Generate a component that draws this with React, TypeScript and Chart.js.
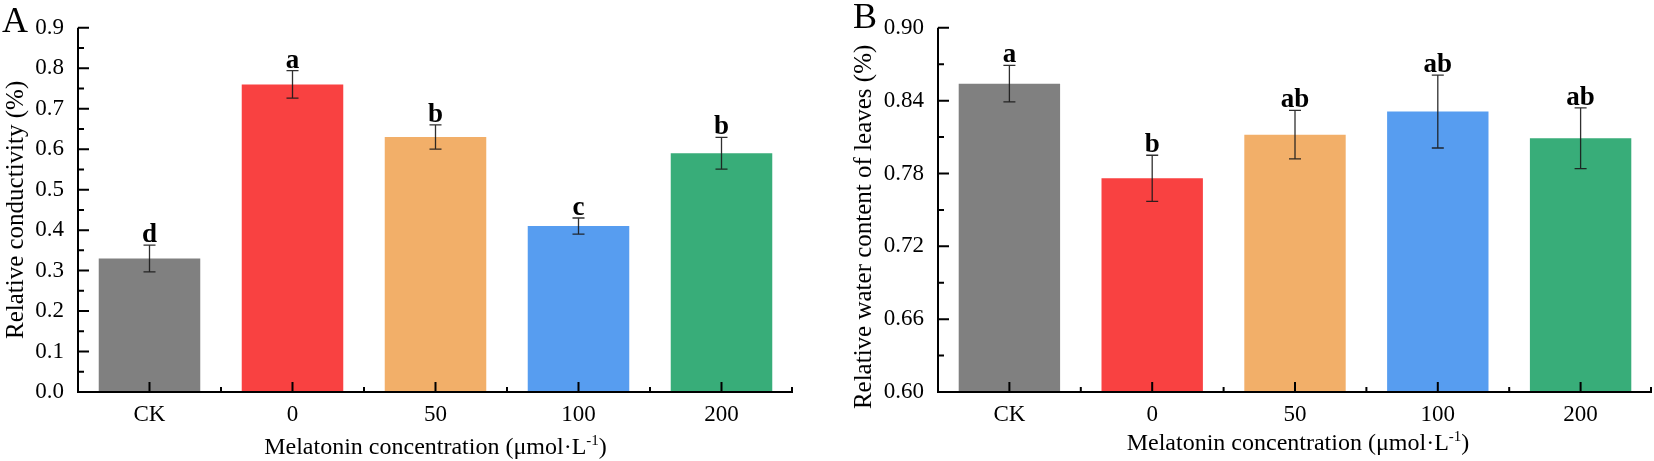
import { useEffect, useRef } from "react";
import { Chart, registerables } from "chart.js";

Chart.register(...registerables);

const categories = ["CK", "0", "50", "100", "200"];

// A: relative conductivity
const conductivity = [0.33, 0.76, 0.63, 0.41, 0.59];
const conductivityErr = [0.033, 0.034, 0.03, 0.02, 0.039];
const conductivityLetters = ["d", "a", "b", "c", "b"];
const conductivityTicks = [0, 0.1, 0.2, 0.3, 0.4, 0.5, 0.6, 0.7, 0.8, 0.9];

// B: relative water content
const waterContent = [0.854, 0.776, 0.812, 0.831, 0.809];
const waterContentErr = [0.015, 0.019, 0.02, 0.03, 0.025];
const waterContentLetters = ["a", "b", "ab", "ab", "ab"];
const waterContentTicks = [0.6, 0.66, 0.72, 0.78, 0.84, 0.9];

const barColors = ["#808080", "#F94141", "#F2AF69", "#579DF0", "#38AD79"];
const FONT = "'Liberation Serif', 'Times New Roman', serif";

type PanelProps = {
  values: number[];
  errors: number[];
  letters: string[];
  ticks: number[];
  decimals: number;
  yTitle: string;
  yTitleX: number;
  yTitleShift: number;
  xTitleShift: number;
  xTitleY: number;
  panel: string;
  panelX: number;
  panelY: number;
  width: number;
  axisLeft: number;
  axisRight: number;
};

function decorPlugin(p: PanelProps) {
  return {
    id: "decor",
    afterDraw(chart: any) {
      const ctx: CanvasRenderingContext2D = chart.ctx;
      const { left, right, top, bottom } = chart.chartArea;
      const xs = chart.scales.x;
      const ys = chart.scales.y;
      ctx.save();

      // error bars + significance letters
      p.values.forEach((v, i) => {
        const cx = xs.getPixelForValue(i);
        const hi = ys.getPixelForValue(v + p.errors[i]);
        const lo = ys.getPixelForValue(v - p.errors[i]);
        ctx.strokeStyle = "rgba(25,25,25,0.9)";
        ctx.lineWidth = 1.3;
        ctx.beginPath();
        ctx.moveTo(cx, hi);
        ctx.lineTo(cx, lo);
        ctx.moveTo(cx - 6, hi);
        ctx.lineTo(cx + 6, hi);
        ctx.moveTo(cx - 6, lo);
        ctx.lineTo(cx + 6, lo);
        ctx.stroke();
        ctx.fillStyle = "#000";
        ctx.font = `bold 27px ${FONT}`;
        ctx.textAlign = "center";
        ctx.textBaseline = "alphabetic";
        ctx.fillText(p.letters[i], cx, hi - 3);
      });

      // axis lines
      ctx.strokeStyle = "#000";
      ctx.lineWidth = 2;
      ctx.beginPath();
      ctx.moveTo(left, top);
      ctx.lineTo(left, bottom);
      ctx.lineTo(right, bottom);
      ctx.stroke();

      // y ticks (inward), major + minor
      ctx.beginPath();
      const yt = ys.ticks.map((t: any) => t.value);
      yt.forEach((v: number, i: number) => {
        const py = ys.getPixelForValue(v);
        ctx.moveTo(left, py);
        ctx.lineTo(left + 11, py);
        if (i < yt.length - 1) {
          const my = ys.getPixelForValue((v + yt[i + 1]) / 2);
          ctx.moveTo(left, my);
          ctx.lineTo(left + 6, my);
        }
      });
      // x ticks: major at centers, minor at boundaries
      categories.forEach((_, i) => {
        const px = xs.getPixelForValue(i);
        ctx.moveTo(px, bottom);
        ctx.lineTo(px, bottom - 10);
        const bx = i < categories.length - 1 ? (px + xs.getPixelForValue(i + 1)) / 2 : right - 1;
        ctx.moveTo(bx, bottom);
        ctx.lineTo(bx, bottom - 5);
      });
      ctx.stroke();

      // y title
      ctx.fillStyle = "#000";
      ctx.font = `25px ${FONT}`;
      ctx.textAlign = "center";
      ctx.textBaseline = "middle";
      ctx.save();
      ctx.translate(p.yTitleX, (top + bottom) / 2 + p.yTitleShift);
      ctx.rotate(-Math.PI / 2);
      ctx.fillText(p.yTitle, 0, 0);
      ctx.restore();

      // x title with superscript
      const main = "Melatonin concentration (\u03bcmol\u00b7L";
      const sup = "-1";
      const tail = ")";
      ctx.textBaseline = "alphabetic";
      ctx.textAlign = "left";
      ctx.font = `24px ${FONT}`;
      const wMain = ctx.measureText(main).width;
      const wTail = ctx.measureText(tail).width;
      ctx.font = `15px ${FONT}`;
      const wSup = ctx.measureText(sup).width;
      let tx = (left + right) / 2 + p.xTitleShift - (wMain + wSup + wTail) / 2;
      ctx.font = `24px ${FONT}`;
      ctx.fillText(main, tx, p.xTitleY);
      tx += wMain;
      ctx.font = `15px ${FONT}`;
      ctx.fillText(sup, tx, p.xTitleY - 9);
      tx += wSup;
      ctx.font = `24px ${FONT}`;
      ctx.fillText(tail, tx, p.xTitleY);

      // panel letter
      ctx.font = `36px ${FONT}`;
      ctx.fillText(p.panel, p.panelX, p.panelY);

      ctx.restore();
    },
  };
}

function Panel(p: PanelProps) {
  const canvasRef = useRef<HTMLCanvasElement>(null);
  const chartRef = useRef<Chart | null>(null);

  useEffect(() => {
    if (!canvasRef.current) return;
    if (chartRef.current) chartRef.current.destroy();

    chartRef.current = new Chart(canvasRef.current, {
      type: "bar",
      data: {
        labels: categories,
        datasets: [
          {
            data: p.values,
            backgroundColor: barColors,
            borderWidth: 0,
            barPercentage: 0.71,
            categoryPercentage: 1,
          },
        ],
      },
      options: {
        responsive: false,
        animation: false,
        events: [],
        layout: { padding: { left: 0, top: 11, right: p.width - p.axisRight, bottom: 0 } },
        plugins: { legend: { display: false }, tooltip: { enabled: false } },
        scales: {
          x: {
            type: "category",
            grid: { display: false, drawTicks: false },
            border: { display: false },
            ticks: { color: "#000", font: { family: FONT, size: 23 }, padding: 9, maxRotation: 0 },
            afterFit: (s: any) => {
              s.height = 69;
            },
          },
          y: {
            min: p.ticks[0],
            max: p.ticks[p.ticks.length - 1],
            grid: { display: false, drawTicks: false },
            border: { display: false },
            afterBuildTicks: (s: any) => {
              s.ticks = p.ticks.map((v) => ({ value: v }));
            },
            ticks: {
              color: "#000",
              font: { family: FONT, size: 23 },
              padding: 14,
              callback: (v: any) => Number(v).toFixed(p.decimals),
            },
            afterFit: (s: any) => {
              s.width = p.axisLeft;
            },
          },
        },
      },
      plugins: [decorPlugin(p)],
    });

    return () => {
      if (chartRef.current) {
        chartRef.current.destroy();
        chartRef.current = null;
      }
    };
  }, []);

  return <canvas ref={canvasRef} width={p.width} height={461} style={{ display: "block" }} />;
}

export default function App() {
  return (
    <div
      style={{
        position: "absolute",
        left: 0,
        top: 0,
        width: 1654,
        height: 461,
        display: "flex",
        background: "#fff",
      }}
    >
      <Panel
        values={conductivity}
        errors={conductivityErr}
        letters={conductivityLetters}
        ticks={conductivityTicks}
        decimals={1}
        yTitle="Relative conductivity (%)"
        yTitleX={16}
        yTitleShift={0}
        xTitleShift={0}
        xTitleY={454}
        panel="A"
        panelX={2}
        panelY={32}
        width={800}
        axisLeft={78}
        axisRight={793}
      />
      <Panel
        values={waterContent}
        errors={waterContentErr}
        letters={waterContentLetters}
        ticks={waterContentTicks}
        decimals={2}
        yTitle="Relative water content of leaves (%)"
        yTitleX={64}
        yTitleShift={17}
        xTitleShift={3}
        xTitleY={450}
        panel="B"
        panelX={53}
        panelY={28}
        width={854}
        axisLeft={138}
        axisRight={852}
      />
    </div>
  );
}
